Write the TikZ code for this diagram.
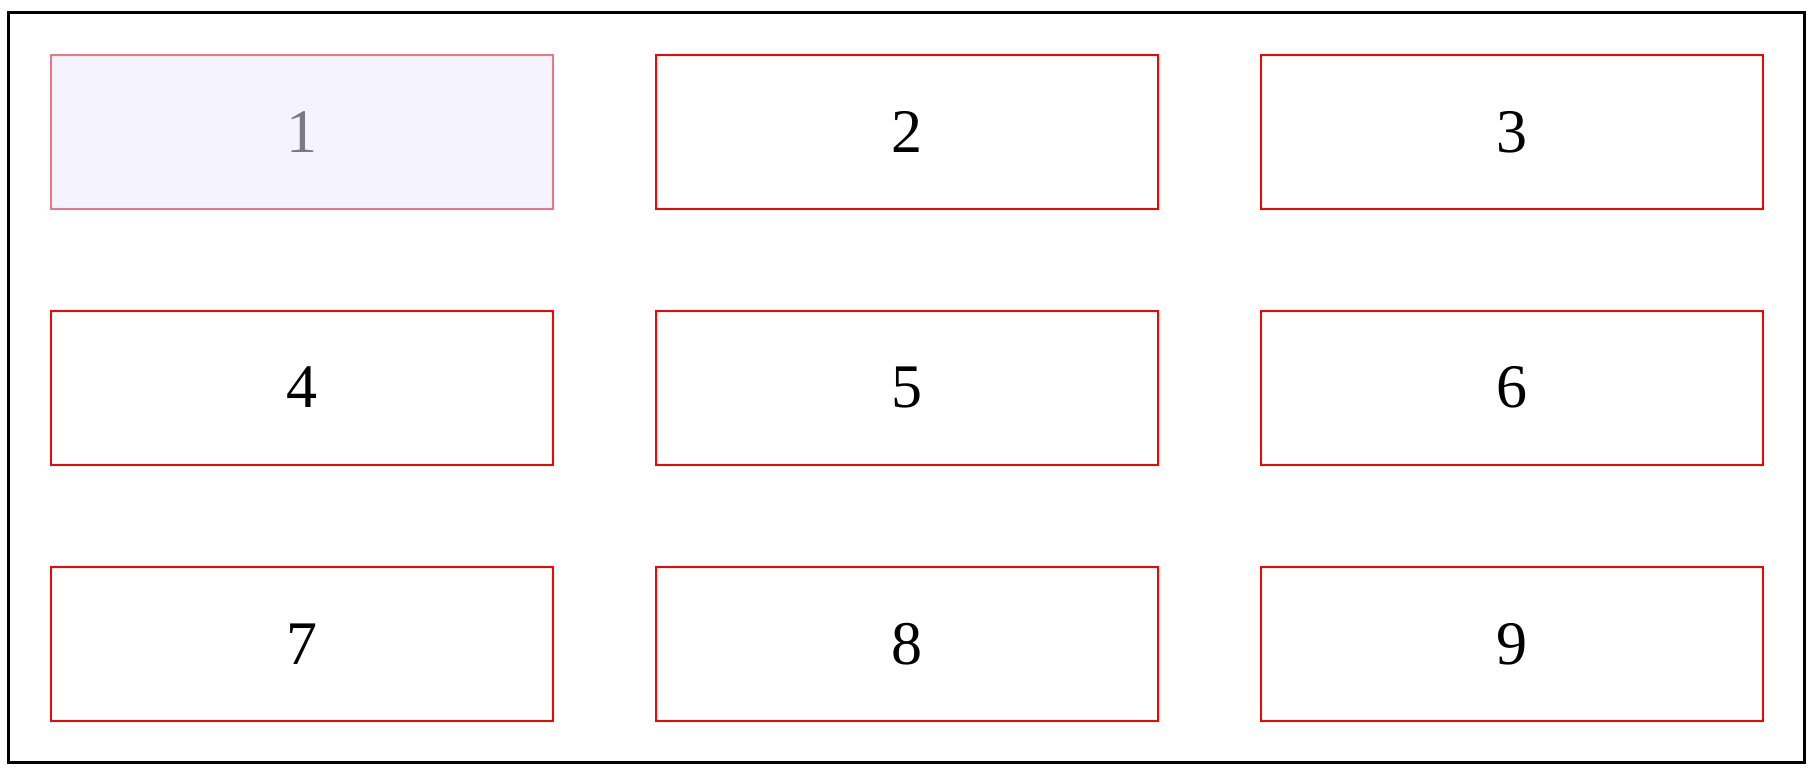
\documentclass[tikz,border=0pt]{standalone}
\usepackage{fontspec}
\setmainfont{Liberation Serif}
\definecolor{cellred}{RGB}{255,0,0}
\definecolor{fadedred}{RGB}{238,118,130}
\definecolor{fadedfill}{RGB}{245,243,253}
\definecolor{fadedtext}{RGB}{122,122,133}
\begin{document}
\begin{tikzpicture}[x=1pt,y=-1pt,
  cell/.style={draw=cellred, line width=2pt, minimum width=502pt, minimum height=154pt,
    inner sep=0pt, font=\fontsize{62}{62}\selectfont, text=black},
  faded/.style={cell, draw=fadedred, fill=fadedfill, text=fadedtext},
  frame/.style={draw=black, line width=2.5pt}]
\useasboundingbox (0,0) rectangle (1816,776);
\draw[frame] (8.5,12.5) rectangle (1804.5,762.5);
\node[faded] (n1) at (301.5,132) {1};
\node[cell] (n2) at (907,132) {2};
\node[cell] (n3) at (1511.5,132) {3};
\node[cell] (n4) at (301.5,387.5) {4};
\node[cell] (n5) at (907,387.5) {5};
\node[cell] (n6) at (1511.5,387.5) {6};
\node[cell] (n7) at (301.5,644) {7};
\node[cell] (n8) at (907,644) {8};
\node[cell] (n9) at (1511.5,644) {9};
\end{tikzpicture}
\end{document}
